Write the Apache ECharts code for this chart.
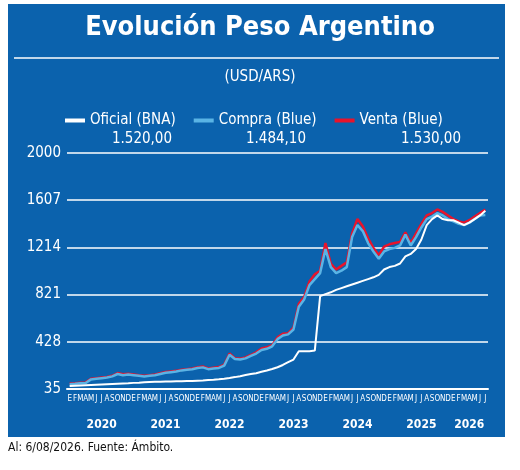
<!DOCTYPE html><html><head><meta charset="utf-8">
<script src="https://cdn.jsdelivr.net/npm/echarts@6/dist/echarts.min.js"></script>
<style>body{margin:0;background:#fff}#c{width:520px;height:470px}</style></head><body><div id="c"></div>
<script>
const monthLetters=['E','F','M','A','M','J','J','A','S','O','N','D'];
const years=['2020','2021','2022','2023','2024','2025','2026'];
const months=[];for(let y=0;y<7;y++)for(let m=0;m<12;m++){if(y==6&&m>6)break;months.push(monthLetters[m]+'|'+years[y]);}
const compra=[75,78,82,85,115,120,125,130,140,160,150,155,
150,145,140,145,150,160,170,175,180,190,195,200,
210,215,200,205,210,230,320,285,280,290,310,330,
360,370,390,450,480,490,530,720,780,900,950,1000,
1200,1050,1000,1020,1050,1300,1400,1350,1250,1180,1120,1180,
1200,1210,1230,1320,1230,1300,1380,1450,1470,1500,1480,1450,
1430,1410,1400,1420,1450,1480,1484];
const venta=[80,83,88,90,120,125,130,135,145,168,158,162,
156,150,146,150,156,166,176,181,186,196,200,206,
216,222,206,212,218,238,330,292,288,298,318,340,
372,382,400,465,495,500,545,745,800,930,990,1020,
1250,1080,1030,1060,1090,1330,1450,1390,1290,1210,1150,1220,
1240,1250,1260,1340,1250,1330,1410,1480,1500,1530,1510,1480,
1450,1430,1420,1440,1470,1500,1530];
const oficial=[60,62,64,66,68,70,72,74,76,78,80,82,
86,88,91,93,95,96,97,98,99,100,101,102,
104,106,109,112,116,121,127,134,142,151,159,166,
178,189,201,216,235,258,280,350,350,350,355,808,
825,840,860,875,890,905,920,935,950,965,985,1030,
1050,1060,1080,1140,1160,1200,1280,1400,1450,1480,1450,1440,
1440,1420,1400,1420,1450,1480,1520];
const yTicks=[35,428,821,1214,1607,2000];
const legendNames=['Oficial (BNA)','Compra (Blue)','Venta (Blue)'];
const legendValues=['1.520,00','1.484,10','1.530,00'];
const yearMid={'2020':6,'2021':18,'2022':30,'2023':42,'2024':54,'2025':66,'2026':75};
const BG='#0b62ad';
const chart=echarts.init(document.getElementById('c'));
const font="'DejaVu Sans Condensed','Liberation Sans',sans-serif";
chart.setOption({
 backgroundColor:'#fff',animation:false,
 textStyle:{fontFamily:font},
 graphic:[
  {type:'rect',shape:{x:8,y:4,width:497,height:433},style:{fill:BG},z:-10},
  {type:'line',shape:{x1:14,y1:58,x2:499,y2:58},style:{stroke:'#fff',lineWidth:1.5},z:-5},
  {type:'text',left:'center',top:14,style:{text:'Evolución Peso Argentino',fill:'#fff',font:"bold 27px "+font}},
  {type:'text',left:'center',top:70,style:{text:'(USD/ARS)',fill:'#fff',font:"15px "+font}},
  {type:'text',x:142,y:132,style:{text:legendValues[0],fill:'#fff',font:"15px "+font,align:'center'}},
  {type:'text',x:276,y:132,style:{text:legendValues[1],fill:'#fff',font:"15px "+font,align:'center'}},
  {type:'text',x:431,y:132,style:{text:legendValues[2],fill:'#fff',font:"15px "+font,align:'center'}},
  {type:'text',x:8,y:442,style:{text:'Al: 6/08/2026. Fuente: Ámbito.',fill:'#111',font:"12px "+font}}
 ],
 legend:{top:108,left:60,itemGap:18,itemWidth:20,itemHeight:4,
  data:legendNames.map(n=>({name:n,icon:'rect'})),
  textStyle:{color:'#fff',fontSize:15,fontFamily:font}},
 grid:{left:67,right:32,top:153,bottom:81},
 xAxis:[
  {type:'category',data:months,boundaryGap:true,
   axisLine:{lineStyle:{color:'#fff',width:2}},axisTick:{show:false},
   axisLabel:{interval:0,color:'#fff',fontSize:8,margin:6,formatter:v=>v.split('|')[0]}},
  {type:'category',data:months,position:'bottom',offset:22,boundaryGap:true,
   axisLine:{show:false},axisTick:{show:false},
   axisLabel:{interval:0,color:'#fff',fontSize:12,fontWeight:'bold',
    formatter:(v,i)=>{const y=v.split('|')[1];return yearMid[y]===i?y:'';}}}
 ],
 yAxis:{type:'value',min:35,max:2000,interval:393,
  axisLine:{show:false},axisTick:{show:false},
  splitLine:{lineStyle:{color:'#fff',width:1.5}},
  axisLabel:{color:'#fff',fontSize:15,margin:6,formatter:v=>String(v)}},
 series:[
  {name:legendNames[2],type:'line',data:venta,showSymbol:false,symbol:'none',itemStyle:{color:'#e8132b'},lineStyle:{color:'#e8132b',width:2.5},z:2},
  {name:legendNames[1],type:'line',data:compra,showSymbol:false,symbol:'none',itemStyle:{color:'#5ab4e5'},lineStyle:{color:'#5ab4e5',width:2.5},z:3},
  {name:legendNames[0],type:'line',data:oficial,showSymbol:false,symbol:'none',itemStyle:{color:'#fff'},lineStyle:{color:'#fff',width:2},z:4}
 ]
});
</script></body></html>
